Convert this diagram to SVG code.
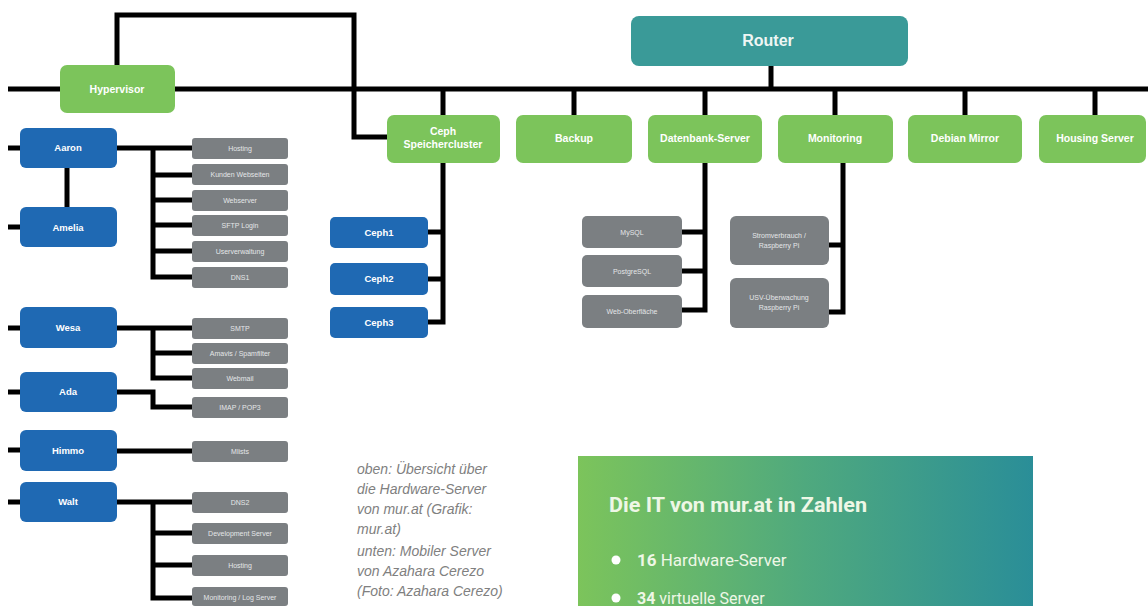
<svg xmlns="http://www.w3.org/2000/svg" width="1148" height="606" viewBox="0 0 1148 606">
<defs>
<linearGradient id="boxg" x1="0" y1="0" x2="1" y2="0">
<stop offset="0" stop-color="#7cc45b"/>
<stop offset="0.5" stop-color="#4fa97e"/>
<stop offset="1" stop-color="#2a8e98"/>
</linearGradient>
<style>
.ln{fill:none;stroke:#000;stroke-width:5;stroke-linejoin:miter}
.g{fill:#7cc45b}
.b{fill:#1f69b3}
.gr{fill:#7b7f82}
.r{fill:#3a9a98}
.tg{font-family:"Liberation Sans",Arial,sans-serif;font-weight:bold;font-size:10.5px;fill:#fff;text-anchor:middle}
.tb{font-family:"Liberation Sans",Arial,sans-serif;font-weight:bold;font-size:9.5px;fill:#fff;text-anchor:middle}
.tr{font-family:"Liberation Sans",Arial,sans-serif;font-size:7px;fill:#e4e6e8;text-anchor:middle}
.cap{font-family:"Liberation Sans",Arial,sans-serif;font-style:italic;font-size:14px;fill:#808080}
.bx{font-family:Roboto,"Liberation Sans",sans-serif;fill:#eef7e6}
</style>
</defs>
<rect width="1148" height="606" fill="#fff"/>

<g id="connectors">
<path class="ln" d="M8 89 H1148"/>
<path class="ln" d="M117 65 V15 H354 V137 H387"/>
<path class="ln" d="M771 66 V89"/>
<path class="ln" d="M443 89 V115 M574 89 V115 M705 89 V115 M835 89 V115 M965 89 V115 M1095 89 V115"/>
<path class="ln" d="M443 163 V322 H428 M428 232 H443 M428 279 H443"/>
<path class="ln" d="M705 163 V310 H682 M682 232 H705 M682 271 H705"/>
<path class="ln" d="M843 163 V312 H829 M829 245 H843"/>
<path class="ln" d="M8 148 H20 M8 227 H20 M8 328 H20 M8 392 H20 M8 450 H20 M8 502 H20"/>
<path class="ln" d="M67 168 V207"/>
<path class="ln" d="M117 148 H192 M153 148 V277 H192 M153 175 H192 M153 200 H192 M153 225 H192 M153 251 H192"/>
<path class="ln" d="M117 328 H192 M153 328 V378 H192 M153 353 H192"/>
<path class="ln" d="M117 392 H153 V407 H192"/>
<path class="ln" d="M117 451 H192"/>
<path class="ln" d="M117 502 H192 M153 502 V598 H192 M153 533 H192 M153 565 H192"/>
</g>

<g id="router"><rect class="r" x="631" y="16" width="277" height="50" rx="8"/><text x="768" y="46" font-family="Liberation Sans,Arial,sans-serif" font-weight="bold" font-size="16" fill="#eef6f4" text-anchor="middle">Router</text></g>

<g id="hypervisor"><rect class="g" x="60" y="65" width="115" height="48" rx="7"/><text class="tg" x="117" y="93">Hypervisor</text></g>

<g id="ceph"><rect class="g" x="387" y="115" width="113" height="48" rx="7"/><text class="tg" x="443" y="135">Ceph</text><text class="tg" x="443" y="148">Speichercluster</text></g>
<g id="backup"><rect class="g" x="516" y="115" width="116" height="48" rx="7"/><text class="tg" x="574" y="142">Backup</text></g>
<g id="datenbank"><rect class="g" x="648" y="115" width="114" height="48" rx="7"/><text class="tg" x="705" y="142">Datenbank-Server</text></g>
<g id="monitoring"><rect class="g" x="778" y="115" width="115" height="48" rx="7"/><text class="tg" x="835" y="142">Monitoring</text></g>
<g id="debian"><rect class="g" x="908" y="115" width="114" height="48" rx="7"/><text class="tg" x="965" y="142">Debian Mirror</text></g>
<g id="housing"><rect class="g" x="1039" y="115" width="107" height="48" rx="7"/><text class="tg" x="1095" y="142">Housing Server</text></g>

<g id="ceph1"><rect class="b" x="330" y="217" width="98" height="31" rx="5"/><text class="tb" x="379" y="236">Ceph1</text></g>
<g id="ceph2"><rect class="b" x="330" y="263" width="98" height="32" rx="5"/><text class="tb" x="379" y="282">Ceph2</text></g>
<g id="ceph3"><rect class="b" x="330" y="307" width="98" height="31" rx="5"/><text class="tb" x="379" y="326">Ceph3</text></g>

<g id="mysql"><rect class="gr" x="582" y="216" width="100" height="32" rx="5"/><text class="tr" x="632" y="235">MySQL</text></g>
<g id="postgres"><rect class="gr" x="582" y="255" width="100" height="32" rx="5"/><text class="tr" x="632" y="274">PostgreSQL</text></g>
<g id="weboberflaeche"><rect class="gr" x="582" y="295" width="100" height="33" rx="5"/><text class="tr" x="632" y="314">Web-Oberfläche</text></g>

<g id="strom"><rect class="gr" x="730" y="216" width="99" height="49" rx="6"/><text class="tr" x="779" y="238">Stromverbrauch /</text><text class="tr" x="779" y="248">Raspberry Pi</text></g>
<g id="usv"><rect class="gr" x="730" y="278" width="99" height="50" rx="6"/><text class="tr" x="779" y="300">USV-Überwachung</text><text class="tr" x="779" y="310">Raspberry Pi</text></g>

<g id="aaron"><rect class="b" x="20" y="128" width="97" height="40" rx="6"/><text class="tb" x="68" y="151">Aaron</text></g>
<g id="amelia"><rect class="b" x="20" y="207" width="97" height="40" rx="6"/><text class="tb" x="68" y="231">Amelia</text></g>
<g id="wesa"><rect class="b" x="20" y="307" width="97" height="41" rx="6"/><text class="tb" x="68" y="331">Wesa</text></g>
<g id="ada"><rect class="b" x="20" y="372" width="97" height="40" rx="6"/><text class="tb" x="68" y="395">Ada</text></g>
<g id="himmo"><rect class="b" x="20" y="430" width="97" height="41" rx="6"/><text class="tb" x="68" y="454">Himmo</text></g>
<g id="walt"><rect class="b" x="20" y="482" width="97" height="40" rx="6"/><text class="tb" x="68" y="505">Walt</text></g>

<g id="a1"><rect class="gr" x="192" y="138" width="96" height="21" rx="3"/><text class="tr" x="240" y="151">Hosting</text></g>
<g id="a2"><rect class="gr" x="192" y="164" width="96" height="21" rx="3"/><text class="tr" x="240" y="177">Kunden Webseiten</text></g>
<g id="a3"><rect class="gr" x="192" y="190" width="96" height="21" rx="3"/><text class="tr" x="240" y="203">Webserver</text></g>
<g id="a4"><rect class="gr" x="192" y="215" width="96" height="21" rx="3"/><text class="tr" x="240" y="228">SFTP Login</text></g>
<g id="a5"><rect class="gr" x="192" y="241" width="96" height="21" rx="3"/><text class="tr" x="240" y="254">Userverwaltung</text></g>
<g id="a6"><rect class="gr" x="192" y="267" width="96" height="21" rx="3"/><text class="tr" x="240" y="280">DNS1</text></g>

<g id="w1"><rect class="gr" x="192" y="318" width="96" height="21" rx="3"/><text class="tr" x="240" y="331">SMTP</text></g>
<g id="w2"><rect class="gr" x="192" y="343" width="96" height="21" rx="3"/><text class="tr" x="240" y="356">Amavis / Spamfilter</text></g>
<g id="w3"><rect class="gr" x="192" y="368" width="96" height="21" rx="3"/><text class="tr" x="240" y="381">Webmail</text></g>
<g id="d1"><rect class="gr" x="192" y="397" width="96" height="21" rx="3"/><text class="tr" x="240" y="410">IMAP / POP3</text></g>
<g id="h1"><rect class="gr" x="192" y="441" width="96" height="21" rx="3"/><text class="tr" x="240" y="454">Mlists</text></g>
<g id="t1"><rect class="gr" x="192" y="492" width="96" height="21" rx="3"/><text class="tr" x="240" y="505">DNS2</text></g>
<g id="t2"><rect class="gr" x="192" y="523" width="96" height="21" rx="3"/><text class="tr" x="240" y="536">Development Server</text></g>
<g id="t3"><rect class="gr" x="192" y="555" width="96" height="21" rx="3"/><text class="tr" x="240" y="568">Hosting</text></g>
<g id="t4"><rect class="gr" x="192" y="587" width="96" height="19" rx="3"/><text class="tr" x="240" y="600">Monitoring / Log Server</text></g>

<g id="caption">
<text class="cap" x="357" y="474">oben: Übersicht über</text>
<text class="cap" x="357" y="494">die Hardware-Server</text>
<text class="cap" x="357" y="514">von mur.at (Grafik:</text>
<text class="cap" x="357" y="534">mur.at)</text>
<text class="cap" x="357" y="556">unten: Mobiler Server</text>
<text class="cap" x="357" y="576">von Azahara Cerezo</text>
<text class="cap" x="357" y="596">(Foto: Azahara Cerezo)</text>
</g>

<g id="infobox">
<rect x="578" y="456" width="455" height="150" fill="url(#boxg)"/>
<text class="bx" x="609" y="512" font-size="20" font-weight="bold" textLength="258" lengthAdjust="spacingAndGlyphs">Die IT von mur.at in Zahlen</text>
<circle cx="616" cy="560" r="4.5" fill="#fff"/>
<text class="bx" x="637" y="566" font-size="17"><tspan font-weight="bold">16</tspan> Hardware-Server</text>
<circle cx="616" cy="598" r="4.5" fill="#fff"/>
<text class="bx" x="637" y="604" font-size="16"><tspan font-weight="bold">34</tspan> virtuelle Server</text>
</g>
</svg>
